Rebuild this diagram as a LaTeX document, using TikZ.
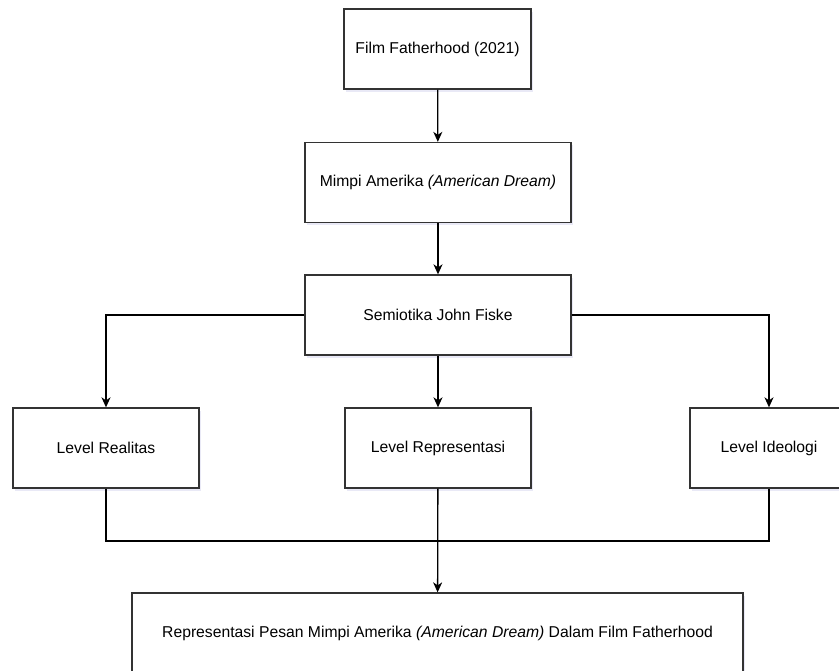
\documentclass[tikz,border=0pt]{standalone}
\usepackage{fontspec}
\setmainfont{Liberation Sans}
\usetikzlibrary{arrows.meta,shadows}

\begin{document}
\begin{tikzpicture}[x=1pt,y=-1pt,line width=1.3pt,
	>={Stealth[length=10pt,width=9pt,inset=3pt]},
	font=\fontsize{15.7}{19}\selectfont]
			\useasboundingbox (0,0) rectangle (839,671);
			\begin{scope}[every node/.style={rectangle,draw=black!80,fill=white,
				inner sep=0pt, minimum height=80pt,
				drop shadow={shadow xshift=2pt,shadow yshift=-3pt,opacity=0.12,fill=blue!40!gray}}]
			\node (film) at (437.5,49) [minimum width=187pt]{Film Fatherhood (2021)};
			\node (mimpi) at (438,182.5) [minimum width=266pt]{Mimpi Amerika \textit{(American Dream)}};
			\node (fiske) at (438,315) [minimum width=266pt]{Semiotika John Fiske};
			\node (realitas) at (106,448) [minimum width=186pt]{Level Realitas};
			\node (representasi) at (438,448) [minimum width=186pt]{Level Representasi};
			\node (ideologi) at (769,448) [minimum width=158pt]{Level Ideologi};
			\node (pesan) at (437.5,633) [minimum width=611pt]{Representasi Pesan Mimpi Amerika \textit{(American Dream)} Dalam Film Fatherhood};
			\end{scope}
			\coordinate (join) at (438,541);
			
			\path (film) edge[->] (mimpi);
			\path (mimpi) edge[->] (fiske);
			\path (fiske) edge[->] (representasi);
			\draw[->] (fiske) -| (realitas);
			\draw[->] (fiske) -| (ideologi);
			\draw (realitas) |- (join) -| (ideologi);
			\path (representasi) edge[->] (pesan);
			\end{tikzpicture}
\end{document}
